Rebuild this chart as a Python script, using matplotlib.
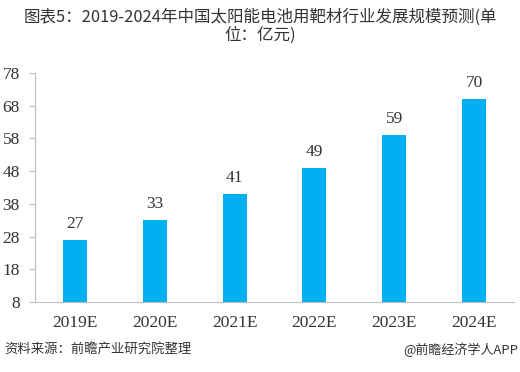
import matplotlib.pyplot as plt

plt.rcParams['font.family'] = ['Noto Sans CJK SC', 'DejaVu Sans']

years = ['2019E', '2020E', '2021E', '2022E', '2023E', '2024E']
values = [27, 33, 41, 49, 59, 70]
yticks = [8, 18, 28, 38, 48, 58, 68, 78]

fig = plt.figure(figsize=(5.2, 3.72), dpi=100)
ax = fig.add_axes([0.0673, 0.188, 0.921, 0.616])

x = range(len(years))
ax.bar(x, values, width=0.3, color='#00b0f0', bottom=0)
for i, v in zip(x, values):
    ax.text(i, v + 2.5, str(v), ha='center', va='bottom',
            fontsize=12.5, family='Liberation Serif', color='#333333')

ax.set_xlim(-0.5, len(years) - 0.5)
ax.set_ylim(8, 78)
ax.set_yticks(yticks)
ax.set_xticks(list(x))
ax.set_xticklabels(years, family='Liberation Serif', fontsize=12.5, color='#333333')
ax.set_yticklabels([str(t) for t in yticks], family='Liberation Serif',
                   fontsize=12.5, color='#333333')
for s in ['top', 'right']:
    ax.spines[s].set_visible(False)
for s in ['left', 'bottom']:
    ax.spines[s].set_color('#bfbfbf')
    ax.spines[s].set_linewidth(0.8)
ax.tick_params(axis='y', length=4, color='#bfbfbf', pad=7)
ax.tick_params(axis='x', length=0, pad=9)

fig.text(0.5, 0.955, '图表5：2019-2024年中国太阳能电池用靶材行业发展规模预测(单',
         ha='center', va='center', fontsize=11.9, color='#333333', fontweight='light')
fig.text(0.5, 0.905, '位：亿元)', ha='center', va='center', fontsize=11.9,
         color='#333333', fontweight='light')
fig.text(0.008, 0.06, '资料来源：前瞻产业研究院整理', ha='left', va='center',
         fontsize=9.6, style='italic', color='#333333')
fig.text(0.997, 0.06, '@前瞻经济学人APP', ha='right', va='center',
         fontsize=9.4, color='#333333')

fig.savefig('out.png', dpi=100)
